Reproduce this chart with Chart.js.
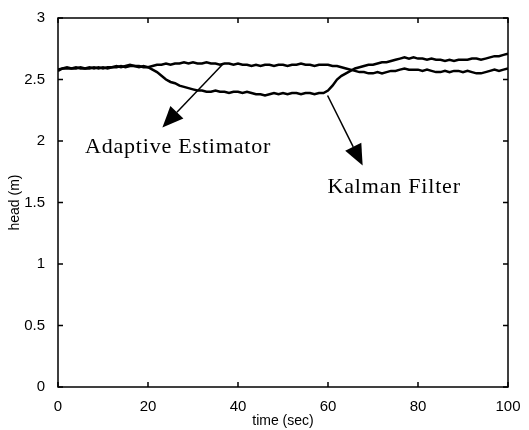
<!DOCTYPE html>
<html>
<head>
<meta charset="utf-8">
<script src="https://cdn.jsdelivr.net/npm/chart.js@4/dist/chart.umd.min.js"></script>
<style>
  html, body { margin: 0; padding: 0; background: #fff; }
  #wrap { width: 529px; height: 430px; }
</style>
</head>
<body>
<div id="wrap"><canvas id="headChart"></canvas></div>
<script>
// time axis, one sample per second
const timeSec = [];
for (let t = 0; t <= 100; t++) timeSec.push(t);

const adaptiveHead = [
  2.58, 2.59, 2.60, 2.59, 2.60, 2.59, 2.59, 2.60, 2.59, 2.60,
  2.59, 2.60, 2.60, 2.61, 2.60, 2.61, 2.62, 2.61, 2.60, 2.61,
  2.60, 2.61, 2.62, 2.62, 2.63, 2.62, 2.63, 2.63, 2.64, 2.63,
  2.64, 2.63, 2.63, 2.64, 2.63, 2.63, 2.62, 2.63, 2.63, 2.62,
  2.63, 2.62, 2.62, 2.61, 2.62, 2.61, 2.62, 2.62, 2.61, 2.62,
  2.62, 2.61, 2.62, 2.62, 2.63, 2.62, 2.62, 2.61, 2.62, 2.62,
  2.62, 2.61, 2.61, 2.60, 2.59, 2.58, 2.57, 2.56, 2.56, 2.55,
  2.55, 2.56, 2.55, 2.56, 2.57, 2.57, 2.58, 2.59, 2.58, 2.58,
  2.58, 2.57, 2.58, 2.57, 2.56, 2.56, 2.57, 2.56, 2.57, 2.57,
  2.56, 2.57, 2.56, 2.55, 2.55, 2.56, 2.57, 2.58, 2.57, 2.58,
  2.59
];

const kalmanHead = [
  2.57, 2.59, 2.59, 2.59, 2.59, 2.60, 2.59, 2.59, 2.60, 2.59,
  2.60, 2.59, 2.60, 2.60, 2.61, 2.60, 2.61, 2.61, 2.61, 2.60,
  2.60, 2.58, 2.56, 2.53, 2.50, 2.48, 2.47, 2.45, 2.44, 2.43,
  2.42, 2.41, 2.41, 2.40, 2.40, 2.41, 2.40, 2.40, 2.39, 2.40,
  2.40, 2.39, 2.40, 2.39, 2.38, 2.38, 2.37, 2.38, 2.39, 2.38,
  2.39, 2.38, 2.39, 2.39, 2.38, 2.39, 2.39, 2.38, 2.39, 2.39,
  2.41, 2.45, 2.50, 2.53, 2.55, 2.57, 2.59, 2.60, 2.61, 2.62,
  2.62, 2.63, 2.64, 2.64, 2.65, 2.66, 2.67, 2.68, 2.67, 2.68,
  2.67, 2.67, 2.66, 2.67, 2.66, 2.66, 2.65, 2.66, 2.65, 2.66,
  2.66, 2.66, 2.67, 2.67, 2.66, 2.67, 2.68, 2.69, 2.69, 2.70,
  2.71
];

const xTicks = [0, 20, 40, 60, 80, 100];
const yTicks = [0, 0.5, 1, 1.5, 2, 2.5, 3];

// labels with arrows, in data units: [text, textX, textY, fromX, fromY, toX, toY]
const callouts = [
  ['Adaptive Estimator', 6.0, 1.90, 36.5, 2.62, 23.2, 2.11],
  ['Kalman Filter', 59.9, 1.58, 59.9, 2.37, 67.7, 1.80]
];

function toPoints(ys) {
  return ys.map((y, i) => ({ x: timeSec[i], y: y }));
}

// frame, inward ticks and the callouts
const framePlugin = {
  id: 'frame',
  afterDraw(chart) {
    const { ctx, chartArea: a, scales } = chart;
    const xs = scales.x, ys = scales.y;
    ctx.save();
    ctx.strokeStyle = '#000';
    ctx.lineWidth = 1.5;
    ctx.strokeRect(a.left, a.top, a.right - a.left, a.bottom - a.top);

    const len = 5;
    ctx.beginPath();
    xTicks.forEach(v => {
      const px = xs.getPixelForValue(v);
      ctx.moveTo(px, a.bottom); ctx.lineTo(px, a.bottom - len);
      ctx.moveTo(px, a.top); ctx.lineTo(px, a.top + len);
    });
    yTicks.forEach(v => {
      const py = ys.getPixelForValue(v);
      ctx.moveTo(a.left, py); ctx.lineTo(a.left + len, py);
      ctx.moveTo(a.right, py); ctx.lineTo(a.right - len, py);
    });
    ctx.stroke();

    ctx.fillStyle = '#000';
    ctx.font = '22px "Liberation Serif", serif';
    ctx.letterSpacing = '0.8px';
    ctx.textBaseline = 'alphabetic';
    callouts.forEach(c => {
      ctx.fillText(c[0], xs.getPixelForValue(c[1]), ys.getPixelForValue(c[2]));
      const x0 = xs.getPixelForValue(c[3]), y0 = ys.getPixelForValue(c[4]);
      const x1 = xs.getPixelForValue(c[5]), y1 = ys.getPixelForValue(c[6]);
      const ang = Math.atan2(y1 - y0, x1 - x0);
      const headLen = 21, headW = 9;
      const bx = x1 - headLen * Math.cos(ang), by = y1 - headLen * Math.sin(ang);
      ctx.lineWidth = 1.5;
      ctx.beginPath();
      ctx.moveTo(x0, y0); ctx.lineTo(bx, by);
      ctx.stroke();
      ctx.beginPath();
      ctx.moveTo(x1, y1);
      ctx.lineTo(bx + headW * Math.sin(ang), by - headW * Math.cos(ang));
      ctx.lineTo(bx - headW * Math.sin(ang), by + headW * Math.cos(ang));
      ctx.closePath();
      ctx.fill();
    });
    ctx.restore();
  }
};

const tickFont = { family: '"Liberation Sans", Arial, sans-serif', size: 15 };

new Chart(document.getElementById('headChart'), {
  type: 'line',
  data: {
    datasets: [
      { label: 'Adaptive Estimator', data: toPoints(adaptiveHead) },
      { label: 'Kalman Filter', data: toPoints(kalmanHead) }
    ]
  },
  options: {
    responsive: true,
    maintainAspectRatio: false,
    animation: false,
    layout: { padding: { top: 18, right: 21, left: 0, bottom: 0 } },
    elements: {
      line: { borderColor: '#000', borderWidth: 2.5, tension: 0, fill: false },
      point: { radius: 0 }
    },
    plugins: {
      legend: { display: false },
      tooltip: { enabled: false }
    },
    scales: {
      x: {
        type: 'linear',
        min: 0, max: 100,
        afterBuildTicks: s => { s.ticks = xTicks.map(v => ({ value: v })); },
        afterFit: s => { s.height = 43; },
        grid: { display: false },
        border: { display: false },
        ticks: { color: '#000', font: tickFont, padding: 3, maxRotation: 0 },
        title: { display: true, text: 'time (sec)', color: '#000', padding: 0,
                 font: { family: '"Liberation Sans", Arial, sans-serif', size: 14 } }
      },
      y: {
        min: 0, max: 3,
        afterBuildTicks: s => { s.ticks = yTicks.map(v => ({ value: v })); },
        afterFit: s => { s.width = 58; },
        grid: { display: false },
        border: { display: false },
        ticks: { color: '#000', font: tickFont, padding: 5, callback: v => String(v) },
        title: { display: true, text: 'head (m)', color: '#000', padding: { top: 7, bottom: 0 },
                 font: { family: '"Liberation Sans", Arial, sans-serif', size: 14 } }
      }
    }
  },
  plugins: [framePlugin]
});
</script>
</body>
</html>
